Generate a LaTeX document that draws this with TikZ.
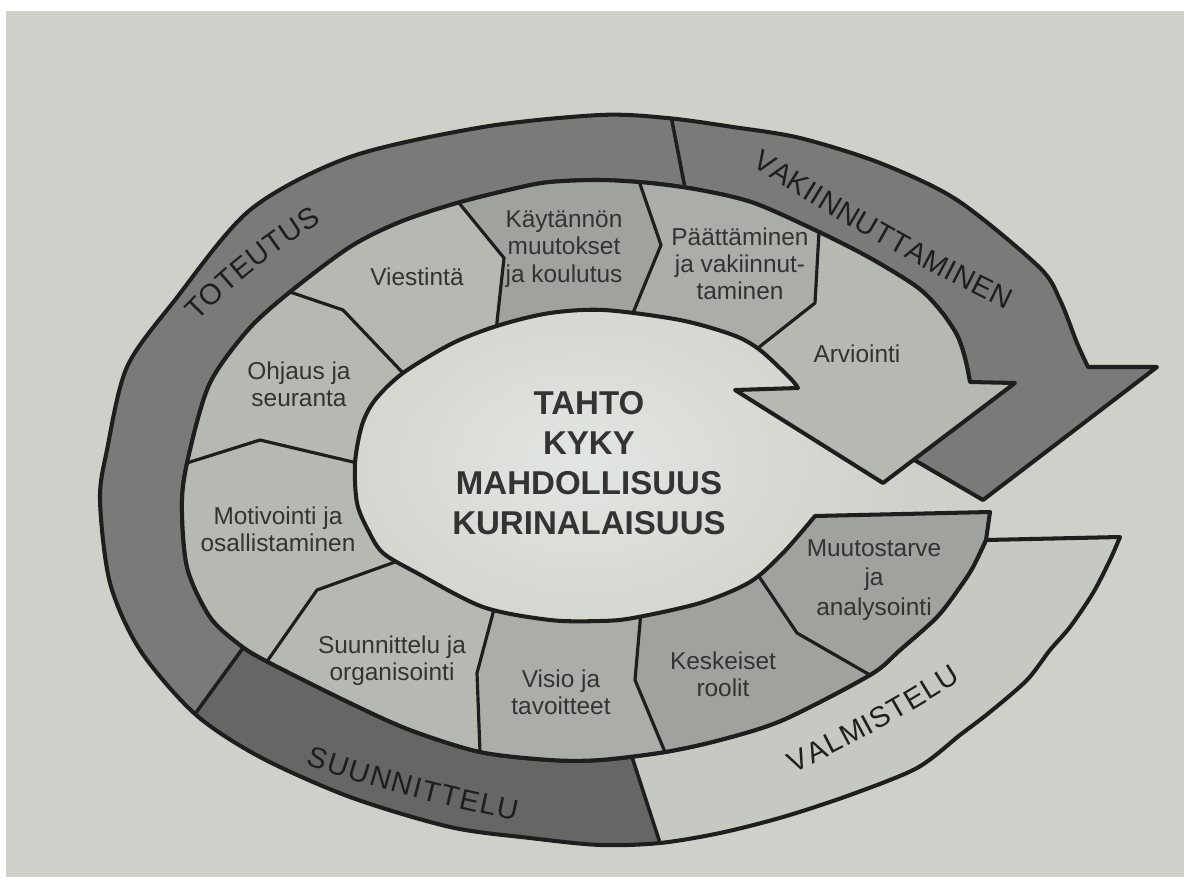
\documentclass[tikz,border=0pt]{standalone}
\usepackage{fontspec}
\setmainfont{Liberation Sans}
\definecolor{pagecol}{HTML}{CFD0C9}
\definecolor{holecol}{HTML}{E2E6E2}
\definecolor{banddark}{HTML}{7A7B78}
\definecolor{banddarker}{HTML}{666764}
\definecolor{bandlight}{HTML}{C6C9C1}
\definecolor{segA}{HTML}{B6B8B2}
\definecolor{segB}{HTML}{ABADA8}
\definecolor{segC}{HTML}{A0A29D}
\definecolor{inkcol}{HTML}{1E1E1E}
\definecolor{labcol}{HTML}{333333}
\def\bandpath{plot[smooth] coordinates {(1120,537) (1110,560) (1093,593) (1070,627) (1050,650) (1027,680) (990,712) (960,735) (917,768) (850,795) (783,817) (720,833) (660,843) (600,845) (530,838) (450,827) (350,797) (260,757) (195,714) (140,650) (110,583) (100,500) (107,450) (127,367) (175,300) (250,210) (350,157) (483,127) (600,115) (667,118) (733,127) (800,138) (880,163) (957,200) (1039,267) (1060,300) (1077,343) (1088,367)} -- (1157,367) -- (983,500) -- (880,440) -- (970,382) -- plot[smooth] coordinates {(970,382) (965,358) (957,335) (940,310) (917,287) (870,258) (819,232) (754,203) (700,190) (650,183) (600,180) (550,182) (517,188) (457,203) (400,222) (350,247) (290,292) (248,330) (210,383) (190,450) (182,500) (187,567) (210,617) (240,645) (268,662) (350,703) (410,730) (480,752) (550,760) (600,760) (665,752) (720,740) (783,720) (870,675) (900,650) (937,617) (960,587) (973,567) (986,540)} -- cycle}
\def\ringpath{(815,516) -- (990,512) -- plot[smooth] coordinates {(986,540) (973,567) (960,587) (937,617) (900,650) (870,675) (783,720) (720,740) (665,752) (600,760) (550,760) (480,752) (410,730) (350,703) (268,662) (240,645) (210,617) (187,567) (182,500) (190,450) (210,383) (248,330) (290,292) (350,247) (400,222) (457,203) (517,188) (550,182) (600,180) (650,183) (700,190) (754,203) (819,232) (870,258) (917,287) (940,310) (957,335) (965,358) (970,382)} -- (1015,383) -- (883,483) -- (735,390) -- plot[smooth] coordinates {(798,388) (790,378) (760,350) (733,335) (680,320) (604,310) (550,313) (500,325) (453,343) (403,373) (375,400) (362,425) (355,463) (357,503) (368,530) (383,553) (417,573) (483,607) (550,620) (600,621) (633,618) (700,603) (750,582) (783,553) (815,516)} -- cycle}
\tikzset{
  ink/.style={draw=inkcol, line width=2.3pt, line join=round},
  divline/.style={draw=inkcol, line width=1.8pt, line join=round},
  lab/.style={font=\fontsize{13.9pt}{15.5pt}\selectfont, text=labcol, align=center, inner sep=0pt},
  core/.style={font=\bfseries\fontsize{18.8pt}{22.7pt}\selectfont, text=labcol, align=center, inner sep=0pt},
  bandletter/.style={sloped, anchor=center, inner sep=0pt, text=inkcol, font=\fontsize{16.5pt}{19pt}\selectfont}
}
\begin{document}
\begin{tikzpicture}[x=0.02cm,y=-0.02cm]
\useasboundingbox (0,0) rectangle (1184,883);
\fill[white] (0,0) rectangle (1184,883);
\fill[pagecol] (6,11) rectangle (1184,877);
\shade[inner color=holecol, outer color=pagecol] (585,462) ellipse [x radius=330, y radius=230];
% outer band
\fill[banddark] \bandpath;
\begin{scope}
  \clip \bandpath;
  \fill[bandlight] (625,735) -- (633,760) -- (660,843) -- (672,880) -- (1150,800) -- (1180,525) -- (980,525) -- cycle;
  \fill[banddarker] (625,735) -- (633,760) -- (660,843) -- (672,880) -- (300,890) -- (170,748) -- (195,714) -- (243,648) -- (255,634) -- cycle;
  \draw[divline, line width=2pt] (670,105) -- (672,121) -- (685,188) -- (688,205);
  \draw[divline, line width=2pt] (255,634) -- (243,648) -- (195,714) -- (183,730);
  \draw[divline, line width=2pt] (625,735) -- (633,760) -- (660,843) -- (665,860);
\end{scope}
\draw[ink] \bandpath;
% inner ring
\fill[segA] \ringpath;
\begin{scope}
  \clip \ringpath;
  \fill[segC] (445,160) -- (459,203) -- (504,258) -- (497,322) -- (496,345) -- (630,335) -- (633,313) -- (661,245) -- (640,184) -- (635,150) -- cycle;
  \fill[segC] (641,600) -- (640,623) -- (635,680) -- (665,752) -- (690,810) -- (925,707) -- (870,675) -- (797,633) -- (760,578) -- (748,560) -- cycle;
  \fill[segC] (748,560) -- (760,578) -- (797,633) -- (870,675) -- (925,707) -- (1070,600) -- (1040,503) -- (800,503) -- cycle;
  \fill[segB] (496,597) -- (493,613) -- (477,673) -- (480,752) -- (483,800) -- (690,810) -- (665,752) -- (635,680) -- (640,623) -- (641,600) -- cycle;
  \fill[segB] (636,160) -- (640,184) -- (661,245) -- (633,313) -- (630,330) -- (745,356) -- (758,348) -- (815,303) -- (819,232) -- (822,200) -- cycle;
  \draw[divline] (885,684) -- (870,675) -- (797,633) -- (760,578) -- (752,566);
  \draw[divline] (668,762) -- (665,752) -- (635,680) -- (640,623) -- (641,610);
  \draw[divline] (481,764) -- (480,752) -- (477,673) -- (493,613) -- (496,600);
  \draw[divline] (260,670) -- (268,660) -- (317,590) -- (395,562) -- (407,558);
  \draw[divline] (178,466) -- (190,462) -- (260,440) -- (353,462) -- (365,465);
  \draw[divline] (282,287) -- (290,292) -- (343,310) -- (403,373) -- (410,382);
  \draw[divline] (455,195) -- (459,203) -- (504,258) -- (497,322) -- (496,334);
  \draw[divline] (638,176) -- (640,184) -- (661,245) -- (633,313) -- (630,322);
  \draw[divline] (820,222) -- (819,232) -- (815,303) -- (758,348) -- (750,354);
\end{scope}
\draw[ink] \ringpath;
% labels
\node[lab] (viest) at (417,277) {Viestintä};
\node[lab] (kayt) at (564,249) {Käytännön\\muutokset\\ja koulutus};
\node[lab] (paat) at (740,264) {Päättäminen\\ja vakiinnut-\\taminen};
\node[lab] (arvi) at (857,354) {Arviointi};
\node[lab] (ohj) at (299,384) {Ohjaus ja\\seuranta};
\node[lab] (moti) at (278,529) {Motivointi ja\\osallistaminen};
\node[lab] (suun) at (392,661) {Suunnittelu ja\\organisointi};
\node[lab] (visio) at (561,692) {Visio ja\\tavoitteet};
\node[lab] (kesk) at (723,674) {Keskeiset\\roolit};
\node[lab, font=\fontsize{13.9pt}{17pt}\selectfont] (muut) at (874,580) {Muutostarve\\ja\\analysointi};
\node[core] (core) at (589,463) {TAHTO\\KYKY\\MAHDOLLISUUS\\KURINALAISUUS};
% band titles, letter by letter along the band
\path (190,315) .. controls (227,276) and (270,243) .. (317,214)
  foreach \p/\c [count=\i] in {0.055/T,0.184/O,0.313/T,0.433/E,0.562/U,0.687/T,0.811/U,0.941/S}
  {node[bandletter, pos=\p] (tot\i) {\c}};
\path (757,157) .. controls (838,210) and (922,258) .. (1011,301)
  foreach \p/\c [count=\i] in {0.033/V,0.101/A,0.169/K,0.217/I,0.246/I,0.298/N,0.371/N,0.444/U,0.512/T,0.574/T,0.639/A,0.715/M,0.772/I,0.823/N,0.894/E,0.964/N}
  {node[bandletter, pos=\p] (vak\i) {\c}};
\path (309,755) .. controls (377,779) and (447,797) .. (518,811)
  foreach \p/\c [count=\i] in {0.045/S,0.144/U,0.247/U,0.350/N,0.453/N,0.526/I,0.592/T,0.680/T,0.772/E,0.860/L,0.951/U}
  {node[bandletter, pos=\p] (suu\i) {\c}};
\path (789,764) .. controls (847,737) and (903,706) .. (956,672)
  foreach \p/\c [count=\i] in {0.051/V,0.158/A,0.257/L,0.369/M,0.459/I,0.537/S,0.640/T,0.743/E,0.842/L,0.945/U}
  {node[bandletter, pos=\p] (val\i) {\c}};
\end{tikzpicture}
\end{document}
